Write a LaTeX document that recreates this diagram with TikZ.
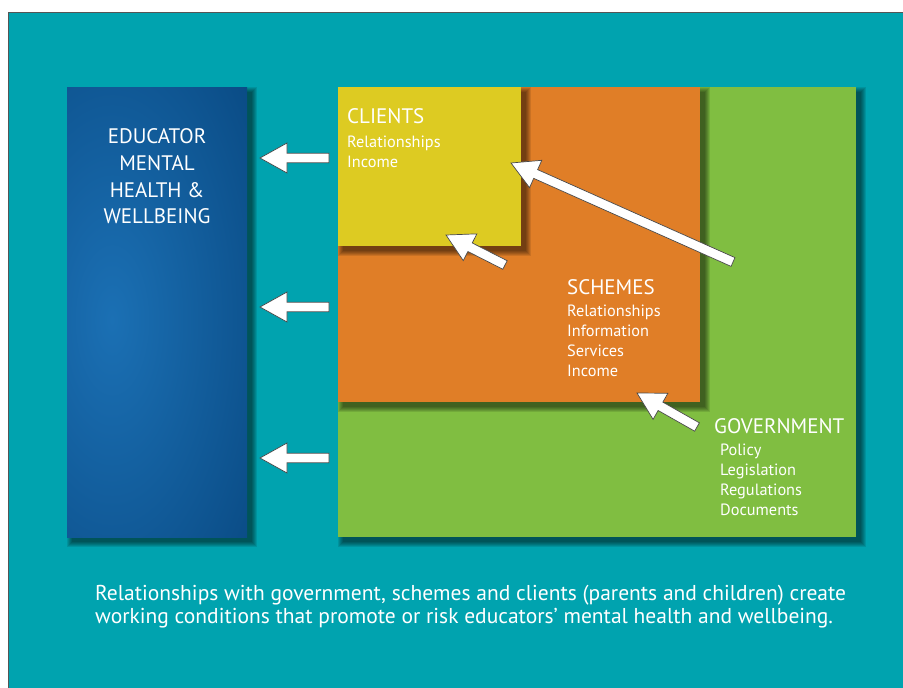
\documentclass[tikz,border=0pt]{standalone}
\usepackage{fontspec}
\setmainfont{PT Sans}
\usetikzlibrary{calc}
\definecolor{tealbg}{HTML}{00A3AF}
\definecolor{bluedark}{HTML}{07457D}
\definecolor{bluelight}{HTML}{1B70B4}
\definecolor{yel}{HTML}{DDCB22}
\definecolor{ora}{HTML}{E07E27}
\definecolor{gre}{HTML}{80BE41}
\definecolor{outl}{HTML}{4A4A4A}
\definecolor{framecol}{HTML}{555555}

\newcommand{\softshadow}[4]{%
  \foreach \i in {0,...,5}{
    \fill[black, opacity=0.1] (#1+5-\i, #2+5-\i) rectangle (#3+5+\i, #4+5+\i);
  }%
}
\newcommand{\blockarrow}[3]{%
  \coordinate (#1-h) at ($(#3)!27pt!(#2)$);
  \draw[barrow] ($(#2)!4.8pt!90:(#3)$) -- ($(#1-h)!4.8pt!90:(#3)$) -- ($(#1-h)!15pt!90:(#3)$) -- (#3)
    -- ($(#1-h)!15pt!-90:(#3)$) -- ($(#1-h)!4.8pt!-90:(#3)$) -- ($(#2)!4.8pt!-90:(#3)$) -- cycle;
}

\tikzset{
  box/.style={draw=none, inner sep=0, outer sep=0, anchor=north west},
  barrow/.style={draw=outl, line width=0.7pt, fill=white, line join=miter},
  hd/.style={text=white, font=\fontsize{21}{24}\selectfont, inner sep=0, anchor=base west},
  hdc/.style={hd, anchor=base},
  it/.style={text=white, font=\fontsize{16.3}{19}\selectfont, inner sep=0, anchor=base west},
  captxt/.style={text=white, font=\fontsize{21.5}{25}\selectfont, inner sep=0, anchor=base west},
}

\begin{document}
\begin{tikzpicture}[x=1pt,y=-1pt]
\useasboundingbox (0,0) rectangle (903,688);
\fill[white] (0,0) rectangle (903,688);
\fill[tealbg] (8.5,12.5) rectangle (904,689);
\draw[framecol, line width=0.8pt] (8.5,689) -- (8.5,12.5) -- (904,12.5);

% educator box
\softshadow{67}{87}{247}{537}
\node[box, fill=bluedark, minimum width=180pt, minimum height=450pt] (edu) at (67,87) {};
\begin{scope}
  \clip (edu.north west) rectangle (edu.south east);
  \shade[inner color=bluelight, outer color=bluedark] (112,320) ellipse (210 and 430);
\end{scope}

% government
\softshadow{338}{87}{856}{537}
\node[box, fill=gre, minimum width=518pt, minimum height=450pt] (gov) at (338,87) {};
% schemes
\softshadow{338}{87}{700}{402}
\node[box, fill=ora, minimum width=362pt, minimum height=315pt] (sch) at (338,87) {};
% clients
\softshadow{338}{87}{521}{246}
\node[box, fill=yel, minimum width=183pt, minimum height=159pt] (cli) at (338,87) {};

% texts
\node[hdc] (e1) at (157,143) {EDUCATOR};
\node[hdc] (e2) at (157,170) {MENTAL};
\node[hdc] (e3) at (157,197) {HEALTH \&};
\node[hdc] (e4) at (157,223) {WELLBEING};

\node[hd] (c0) at (347,123) {CLIENTS};
\node[it] (c1) at (347,147) {Relationships};
\node[it] (c2) at (347,167) {Income};

\node[hd] (s0) at (567,294) {SCHEMES};
\node[it] (s1) at (567,316) {Relationships};
\node[it] (s2) at (567,336) {Information};
\node[it] (s3) at (567,356) {Services};
\node[it] (s4) at (567,376) {Income};

\node[hd] (g0) at (714,433) {GOVERNMENT};
\node[it] (g1) at (720,455) {Policy};
\node[it] (g2) at (720,475) {Legislation};
\node[it] (g3) at (720,495) {Regulations};
\node[it] (g4) at (720,515) {Documents};

\node[captxt] (t1) at (95,600) {Relationships with government, schemes and clients (parents and children) create};
\node[captxt] (t2) at (95,623) {working conditions that promote or risk educators’ mental health and wellbeing.};

% arrows
\coordinate (l1t) at (329,158); \coordinate (l1h) at (260,158);
\coordinate (l2t) at (329,307); \coordinate (l2h) at (260,307);
\coordinate (l3t) at (329,458); \coordinate (l3h) at (260,458);
\blockarrow{la}{l1t}{l1h}
\blockarrow{lb}{l2t}{l2h}
\blockarrow{lc}{l3t}{l3h}

\coordinate (d1t) at (733,262); \coordinate (d1h) at (511,163);
\coordinate (d2t) at (505,265); \coordinate (d2h) at (446,235);
\coordinate (d3t) at (697,427); \coordinate (d3h) at (637,393);
\blockarrow{da}{d1t}{d1h}
\blockarrow{db}{d2t}{d2h}
\blockarrow{dc}{d3t}{d3h}
\end{tikzpicture}
\end{document}
